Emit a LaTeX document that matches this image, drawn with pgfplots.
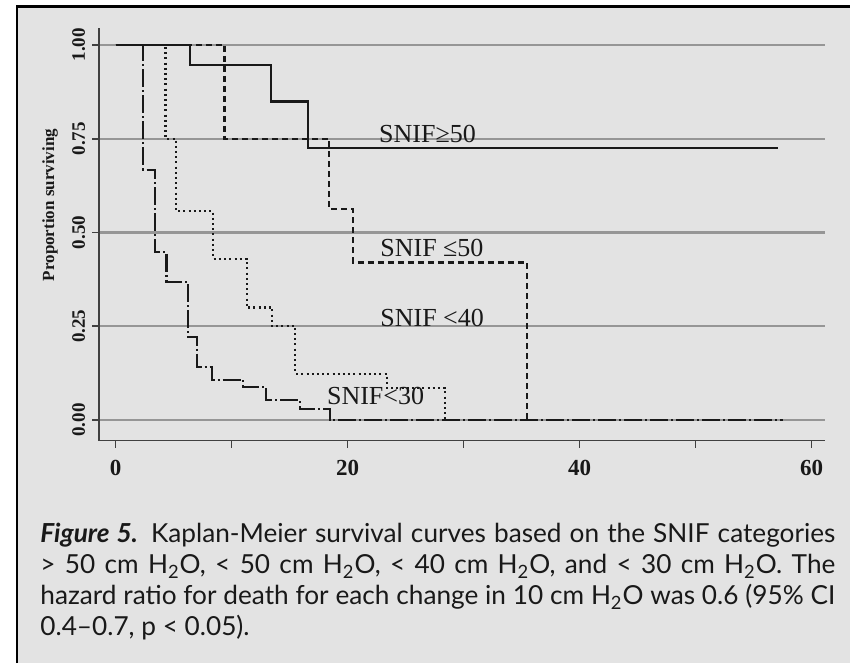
\documentclass[border=0pt]{standalone}
\usepackage{pgfplots}
\pgfplotsset{compat=1.18}
\usepackage{fontspec}
\setmainfont{Liberation Serif}
\newfontfamily\capfont[Ligatures=TeX]{Lato}
\definecolor{panel}{RGB}{227,227,227}
\definecolor{gridgray}{RGB}{150,150,150}
\definecolor{ink}{RGB}{25,25,25}

\begin{document}
\begin{tikzpicture}[x=0.5pt,y=0.5pt]
\useasboundingbox (0,0) rectangle (850,663);
\fill[white] (0,0) rectangle (850,663);
\fill[panel] (17,0) rectangle (850,656.5);
\draw[line width=1.1pt] (17,0) -- (17,656.5) -- (850,656.5);

% y-axis title
\node[rotate=90, font=\bfseries\fontsize{8.5}{8.5}\selectfont, text=ink] at (50,458) {Proportion surviving};

\begin{axis}[
  at={(49.65pt,111.2pt)}, anchor=south west,
  width=363.05pt, height=206.3pt, scale only axis,
  xmin=-1.4, xmax=61.2, ymin=-0.055, ymax=1.045,
  axis x line=bottom, axis y line=left,
  axis line style={-, black!75, line width=0.9pt},
  xtick={0,10,20,30,40,50,60}, xticklabels={0,,20,,40,,60},
  ytick={0,0.25,0.5,0.75,1}, yticklabels={0.00,0.25,0.50,0.75,1.00},
  tick align=outside, major tick length=3.5pt,
  tick style={black!75, line width=0.9pt},
  /pgf/number format/assume math mode=true,
  xticklabel style={font=\bfseries\fontsize{11.5}{11.5}\selectfont, text=ink, yshift=-3pt},
  yticklabel style={font=\bfseries\fontsize{9.5}{9.5}\selectfont, text=ink, rotate=90, anchor=south},
  ymajorgrids, grid style={gridgray, line width=1.1pt},
  km/.style={ink, line width=1.1pt, const plot, no markers},
]
% SNIF >= 50
\addplot[km, solid] coordinates {(0,1) (6.4,0.947) (13.4,0.849) (16.6,0.725) (57.1,0.725)};
% SNIF <= 50
\addplot[km, dash pattern=on 3pt off 2pt] coordinates {(0,1) (9.4,0.75) (18.4,0.5625) (20.5,0.42) (35.5,0)};
% SNIF < 40
\addplot[km, dash pattern=on 1pt off 1.6pt] coordinates {(0,1) (4.3,0.75) (5.2,0.557) (8.4,0.43) (11.3,0.30) (13.5,0.25) (15.5,0.123) (23.4,0.085) (28.4,0)};
% SNIF < 30
\addplot[km, dash pattern=on 9pt off 1.5pt on 1pt off 1.5pt] coordinates {(0,1) (2.4,0.667) (3.4,0.448) (4.4,0.368) (6.25,0.222) (7.0,0.142) (8.3,0.107) (11.0,0.088) (13.0,0.053) (15.9,0.029) (18.5,0) (57.5,0)};

\node[anchor=base west, inner sep=0, font=\fontsize{13}{13}\selectfont, text=ink] at (axis cs:22.7,0.741) {SNIF≥50};
\node[anchor=base west, inner sep=0, font=\fontsize{13}{13}\selectfont, text=ink] at (axis cs:22.8,0.435) {SNIF ≤50};
\node[anchor=base west, inner sep=0, font=\fontsize{13}{13}\selectfont, text=ink] at (axis cs:22.8,0.248) {SNIF <40};
\node[anchor=base west, inner sep=0, font=\fontsize{13}{13}\selectfont, text=ink] at (axis cs:18.2,0.040) {SNIF<30};
\end{axis}

% caption
\node[anchor=north west, inner sep=0, text width=397.5pt, align=justify, text=ink,
      font=\capfont\fontsize{13.1}{15.5}\selectfont] at (40,140) {%
\textbf{\textit{Figure 5.}} Kaplan-Meier survival curves based on the SNIF categories\linebreak
> 50 cm H\textsubscript{2}O, < 50 cm H\textsubscript{2}O, < 40 cm H\textsubscript{2}O, and < 30 cm H\textsubscript{2}O. The\linebreak
hazard ratio for death for each change in 10 cm H\textsubscript{2}O was 0.6 (95\% CI\linebreak
0.4–0.7, p < 0.05).};
\end{tikzpicture}
\end{document}
